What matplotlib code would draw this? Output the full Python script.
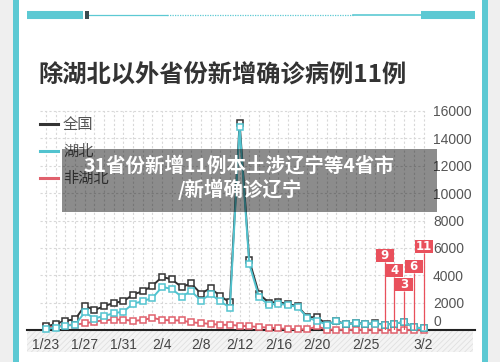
import matplotlib
matplotlib.use("Agg")
import matplotlib.pyplot as plt
from matplotlib.patches import Rectangle
from matplotlib.lines import Line2D
import matplotlib.transforms as mtransforms

plt.rcParams['font.family'] = ['Noto Sans CJK SC', 'DejaVu Sans']
plt.rcParams['hatch.linewidth'] = 0.6

# ---------------- data ----------------
dates = ['1/23', '1/24', '1/25', '1/26', '1/27', '1/28', '1/29', '1/30', '1/31',
         '2/1', '2/2', '2/3', '2/4', '2/5', '2/6', '2/7', '2/8', '2/9', '2/10',
         '2/11', '2/12', '2/13', '2/14', '2/15', '2/16', '2/17', '2/18', '2/19',
         '2/20', '2/21', '2/22', '2/23', '2/24', '2/25', '2/26', '2/27', '2/28',
         '2/29', '3/1', '3/2']
national = [259, 444, 688, 769, 1771, 1459, 1737, 1982, 2102,
            2590, 2829, 3235, 3887, 3694, 3143, 3399, 2656, 3062, 2478,
            2015, 15152, 5090, 2641, 2009, 2048, 1886, 1749, 940,
            930, 420, 648, 430, 520, 450, 480, 400, 460,
            590, 190, 125]
hubei = [70, 180, 323, 371, 1291, 840, 1032, 1220, 1347,
         1921, 2103, 2345, 3156, 2987, 2447, 2841, 2147, 2618, 2097,
         1638, 14840, 4823, 2420, 1843, 1933, 1807, 1693, 900,
         670, 390, 630, 420, 510, 445, 456, 391, 456,
         587, 184, 114]
non_hubei = [189, 264, 365, 398, 480, 619, 705, 762, 755,
             669, 726, 890, 731, 707, 696, 558, 509, 444, 381,
             377, 312, 267, 221, 166, 115, 79, 56, 40,
             260, 30, 18, 10, 10, 5, 24, 9, 4,
             3, 6, 11]
series_names = ['全国', '湖北', '非湖北']
tick_dates = ['1/23', '1/27', '1/31', '2/4', '2/8', '2/12', '2/16', '2/20', '2/25', '3/2']
y_ticks = [0, 2000, 4000, 6000, 8000, 10000, 12000, 14000, 16000]
flag_dates = ['2/27', '2/28', '2/29', '3/1', '3/2']
flag_values = [9, 4, 3, 6, 11]
title = '除湖北以外省份新增确诊病例11例'
overlay_lines = ['31省份新增11例本土涉辽宁等4省市', '/新增确诊辽宁']

# ---------------- style ----------------
W, H = 500, 362
def fx(x): return x / W
def fy(y): return 1 - y / H

TEAL = '#5cc9d3'
C_NAT = '#333333'
C_HB = '#52c3cf'
C_NHB = '#e0606c'
C_FLAG = '#e9505c'
px_per_day = 9.68
x0_px = 46.0
px_per_unit = 219.0 / 16000.0

fig = plt.figure(figsize=(5.0, 3.62), dpi=100)
fig.patch.set_facecolor('white')

# outer frame
fig.patches.append(Rectangle((0, 0), fx(13), 1, transform=fig.transFigure, fc='#efefef', ec='none', zorder=-2))
fig.patches.append(Rectangle((fx(488), 0), 1 - fx(488), 1, transform=fig.transFigure, fc='#efefef', ec='none', zorder=-2))
fig.patches.append(Rectangle((fx(13), 0), fx(6), 1, transform=fig.transFigure, fc=TEAL, ec='none', zorder=-2))
fig.patches.append(Rectangle((fx(482), 0), fx(6), 1, transform=fig.transFigure, fc=TEAL, ec='none', zorder=-2))

# top decoration
fig.lines.append(Line2D([fx(27), fx(83)], [fy(15)] * 2, transform=fig.transFigure, color=TEAL, lw=5.8, solid_capstyle='butt'))
fig.lines.append(Line2D([fx(421), fx(475)], [fy(15)] * 2, transform=fig.transFigure, color=TEAL, lw=5.8, solid_capstyle='butt'))
fig.lines.append(Line2D([fx(89), fx(167)], [fy(15)] * 2, transform=fig.transFigure, color=TEAL, lw=0.9))
fig.lines.append(Line2D([fx(167), fx(353)], [fy(15)] * 2, transform=fig.transFigure, color=TEAL, lw=0.9, ls=(0, (1, 1))))
fig.lines.append(Line2D([fx(353), fx(421)], [fy(15)] * 2, transform=fig.transFigure, color=TEAL, lw=1.2))
fig.patches.append(Rectangle((fx(85), fy(19)), fx(4), 8 / H, transform=fig.transFigure, fc='#3a4a4f', ec='none', zorder=2))

# hatched band below axis (drawn beneath the axes so tick labels stay visible)
fig.patches.append(Rectangle((fx(27), fy(352)), 446 / W, 21 / H, transform=fig.transFigure,
                             fc='#f4f4f4', ec='#e0e0e0', lw=0, hatch='//////', zorder=-1))

# title
fig.text(fx(38), fy(75), title, fontsize=17.5, fontweight='bold', color='#333333', va='center', ha='left')

# axes
ax = fig.add_axes([fx(27), fy(330), (475 - 27) / W, (330 - 100) / H])
ax.patch.set_visible(False)
ax.set_xlim((27 - x0_px) / px_per_day, (475 - x0_px) / px_per_day)
ax.set_ylim(0, 230 / px_per_unit)
for s in ['top', 'left', 'right']:
    ax.spines[s].set_visible(False)
ax.spines['bottom'].set_color('#222222')
ax.spines['bottom'].set_linewidth(1.5)
ax.spines['bottom'].set_zorder(2.5)

xs = list(range(len(dates)))
grid_kw = dict(color='#d8d8d8', lw=0.8, ls=(0, (2, 2)), zorder=1)
for v in y_ticks[1:]:
    ax.hlines(v, (40 - x0_px) / px_per_day, (425 - x0_px) / px_per_day, **grid_kw)
for i in xs:
    ax.vlines(i, 0, 16000, **grid_kw)

ax.set_yticks([])
ax.set_xticks([dates.index(d) for d in tick_dates])
ax.set_xticklabels(tick_dates, fontfamily='Liberation Sans', fontsize=10, color='#444444')
ax.tick_params(axis='x', length=0, pad=5.5)

# y labels on the right
tr = mtransforms.blended_transform_factory(ax.transAxes, ax.transData)
for v in y_ticks:
    off = mtransforms.ScaledTranslation(0, (8 if v == 0 else -1.5) / 100, fig.dpi_scale_trans)
    ax.text((433 - 27) / 448, v, str(v), transform=tr + off, fontfamily='Liberation Sans',
            fontsize=10, color='#555555', va='center', ha='left')

line_kw = dict(lw=1.4, marker='s', ms=4, mfc='white', mew=1.1, clip_on=False)
ax.plot(xs, non_hubei, color=C_NHB, mec=C_NHB, zorder=3, **line_kw)
ax.plot(xs, national, color=C_NAT, mec=C_NAT, zorder=4, **line_kw)
ax.plot(xs, hubei, color=C_HB, mec=C_HB, zorder=5, **line_kw)

# flags
flag_box_px = [255.5, 270, 284.5, 266, 246.5]   # box centre heights (layout)
box_w = 18 / px_per_day
box_h = 13 / px_per_unit
for d, val, cy in zip(flag_dates, flag_values, flag_box_px):
    i = dates.index(d)
    yc = (330 - cy) / px_per_unit
    ax.vlines(i, val, yc - box_h / 2, color=C_FLAG, lw=0.9, zorder=6)
    ax.add_patch(Rectangle((i - box_w / 2, yc - box_h / 2), box_w, box_h, fc=C_FLAG, ec='none', zorder=7))
    ax.text(i, yc, str(val), color='white', fontsize=8.5, fontweight='bold', ha='center', va='center',
            fontfamily='DejaVu Sans', zorder=8)

# legend
colors = [C_NAT, C_HB, C_NHB]
for name, c, yy in zip(series_names, colors, [124, 151, 178]):
    fig.lines.append(Line2D([fx(40), fx(58)], [fy(yy)] * 2, transform=fig.transFigure, color=c, lw=2.2))
    fig.text(fx(63), fy(yy), name, fontsize=11, color='#555555', va='center', ha='left')

# overlay caption box
fig.patches.append(Rectangle((fx(62), fy(212)), (437 - 62) / W, (212 - 149) / H, transform=fig.transFigure,
                             fc='black', alpha=0.45, ec='none', zorder=10))
fig.text(fx(239), fy(166), overlay_lines[0], fontsize=14, fontweight='bold', color='white',
         ha='center', va='center', zorder=11)
fig.text(fx(240), fy(189), overlay_lines[1], fontsize=14, fontweight='bold', color='white',
         ha='center', va='center', zorder=11)

fig.savefig('out.png', dpi=100)
